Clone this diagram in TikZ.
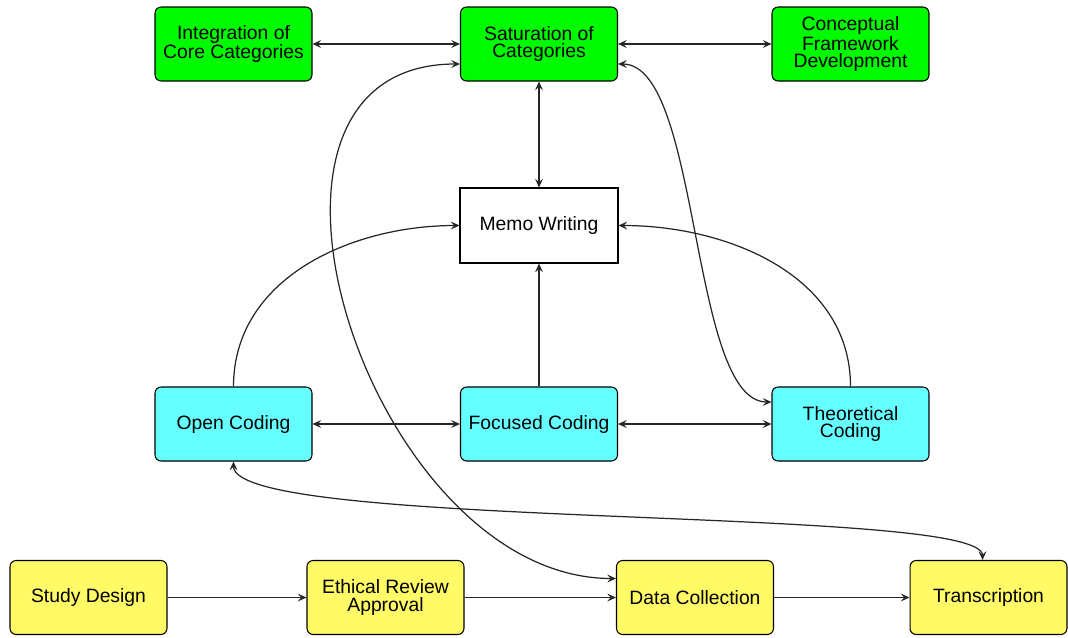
\documentclass[tikz,border=0pt]{standalone}
\usepackage{fontspec}
\setmainfont{Liberation Sans}
\usetikzlibrary{arrows.meta,calc}
\definecolor{gfill}{RGB}{0,250,0}
\definecolor{cfill}{RGB}{102,255,255}
\definecolor{yfill}{RGB}{255,250,102}
\begin{document}
\begin{tikzpicture}[x=0.02cm,y=-0.02cm,
  font=\fontsize{11}{9.8}\selectfont,
  box/.style={draw=black, line width=0.6pt, rounded corners=3.5pt,
    minimum width=3.14cm, minimum height=1.48cm, align=center, inner sep=1pt},
  gbox/.style={box, fill=gfill},
  cbox/.style={box, fill=cfill},
  ybox/.style={box, fill=yfill},
  wbox/.style={draw=black, line width=0.6pt, fill=white,
    minimum width=3.16cm, minimum height=1.5cm, align=center, inner sep=1pt},
  tip/.tip={Stealth[length=5pt,width=4.5pt,inset=2pt]},
  conn/.style={line width=0.7pt, draw=black!85},
  arr/.style={conn, -tip},
  darr/.style={conn, tip-tip}]
\useasboundingbox (0,0) rectangle (1068,637);

\node[gbox] (int) at (233.5,44) {Integration of\\Core Categories};
\node[gbox] (sat) at (539,44) {Saturation of\\Categories};
\node[gbox] (con) at (850.5,44) {Conceptual\\Framework\\Development};
\node[wbox] (memo) at (539,225.5) {Memo Writing};
\node[cbox] (open) at (233.5,424) {Open Coding};
\node[cbox] (foc) at (539,424) {Focused Coding};
\node[cbox] (theo) at (850.5,424) {Theoretical\\Coding};
\node[ybox] (sd) at (88.5,597.5) {Study Design};
\node[ybox] (er) at (385.5,597.5) {Ethical Review\\Approval};
\node[ybox] (dc) at (695,597.5) {Data Collection};
\node[ybox] (tr) at (988.5,597.5) {Transcription};

\draw[darr] (int) -- (sat);
\draw[darr] (sat) -- (con);
\draw[darr] (sat) -- (memo);
\draw[arr] (foc) -- (memo);
\draw[darr] (open) -- (foc);
\draw[darr] (foc) -- (theo);
\draw[arr] (sd) -- (er);
\draw[arr] (er) -- (dc);
\draw[arr] (dc) -- (tr);

\draw[arr] (open.north) to[out=90,in=180] (memo.west);
\draw[arr] (theo.north) to[out=90,in=0] (memo.east);

\draw[darr] ($(sat.east)+(0,20)$) .. controls +(83,0) and +(-82,0) .. ($(theo.west)+(0,-22)$);
\draw[darr] ($(sat.west)+(0,20)$) .. controls +(-255,0) and +(-247,0) .. ($(dc.west)+(0,-19)$);
\draw[darr] (open.south) .. controls +(0,69) and +(0,-55) .. ($(tr.north)+(-6,0)$);
\end{tikzpicture}
\end{document}
